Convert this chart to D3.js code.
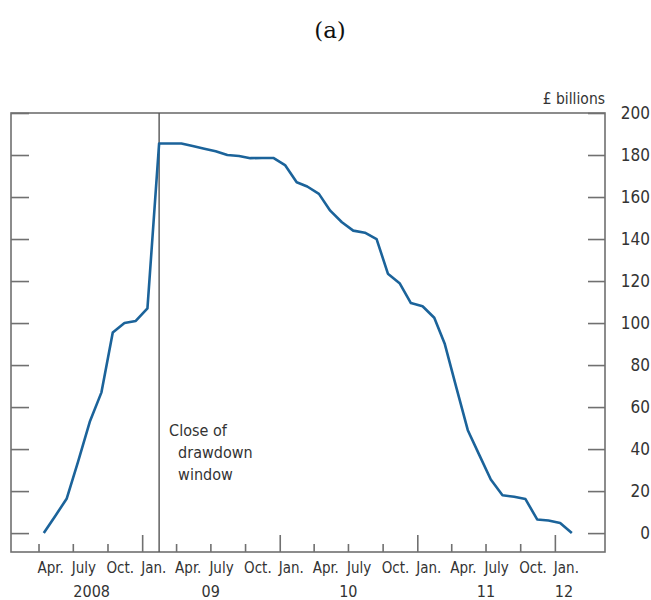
<!DOCTYPE html>
<html>
<head>
<meta charset="utf-8">
<script src="https://cdn.jsdelivr.net/npm/d3@7"></script>
<style>
  body { margin: 0; background: #fff; }
  text { font-family: "Liberation Sans Narrow", "DejaVu Sans Condensed", "Roboto", sans-serif; font-stretch: condensed; fill: #333; }
  .title { font-family: "DejaVu Serif", serif; font-stretch: normal; fill: #111; }
</style>
</head>
<body>
<div id="chart"></div>
<script>
// Monthly amounts outstanding, £ billions, Apr. 2008 to Feb. 2012
var months = ["2008-04","2008-05","2008-06","2008-07","2008-08","2008-09","2008-10","2008-11","2008-12",
    "2009-01","2009-02","2009-03","2009-04","2009-05","2009-06","2009-07","2009-08","2009-09","2009-10","2009-11","2009-12",
    "2010-01","2010-02","2010-03","2010-04","2010-05","2010-06","2010-07","2010-08","2010-09","2010-10","2010-11","2010-12",
    "2011-01","2011-02","2011-03","2011-04","2011-05","2011-06","2011-07","2011-08","2011-09","2011-10","2011-11","2011-12",
    "2012-01","2012-02"];
var values = [0, 8, 16.5, 34, 53, 67, 95.5, 100, 101,
    107, 185.5, 185.5, 185.5, 184.3, 183, 181.8, 180, 179.5, 178.5, 178.6, 178.6,
    175.2, 167, 165, 161.5, 153.5, 148, 144, 143, 140, 123.5, 119, 109.5,
    108, 102.5, 90, 69, 49, 37, 25.5, 18, 17.3, 16.2, 6.5, 6,
    4.8, 0];

// quarter tick months and their labels
var quarterMonths = ["2008-04","2008-07","2008-10","2009-01","2009-04","2009-07","2009-10","2010-01",
    "2010-04","2010-07","2010-10","2011-01","2011-04","2011-07","2011-10","2012-01"];
var monthNames = {"01": "Jan.", "04": "Apr.", "07": "July", "10": "Oct."};

var yearLabels = ["2008", "09", "10", "11", "12"];
var yearLabelDates = ["2008-08-20", "2009-07-02", "2010-07-02", "2011-07-02", "2012-01-25"];

var yTicks = [0, 20, 40, 60, 80, 100, 120, 140, 160, 180, 200];
var closeDate = "2009-02-15";

var w = 651, h = 600;
var plotLeft = 11, plotRight = 605, plotTop = 113, plotBottom = 552;

var parseMonth = d3.timeParse("%Y-%m");
var parseDay = d3.timeParse("%Y-%m-%d");
var midMonth = function(s) { return d3.timeDay.offset(parseMonth(s), 14); };

var data = months.map(function(m, i) { return {date: midMonth(m), value: values[i]}; });

var xScale = d3.scaleTime()
    .domain([new Date(2008, 0, 19), new Date(2012, 4, 13)])
    .range([plotLeft, plotRight]);

var yScale = d3.scaleLinear()
    .domain([-9, 200])
    .range([plotBottom, plotTop]);

var svg = d3.select("#chart").append("svg")
    .attr("width", w)
    .attr("height", h);

// title
svg.append("text")
    .attr("class", "title")
    .attr("x", 330)
    .attr("y", 38)
    .attr("text-anchor", "middle")
    .style("font-size", "23px")
    .text("(a)");

// units
svg.append("text")
    .attr("x", plotRight)
    .attr("y", 104)
    .attr("text-anchor", "end")
    .style("font-size", "15.5px")
    .text("£ billions");

// frame
svg.append("rect")
    .attr("x", plotLeft)
    .attr("y", plotTop)
    .attr("width", plotRight - plotLeft)
    .attr("height", plotBottom - plotTop)
    .attr("fill", "none")
    .attr("stroke", "#707070")
    .attr("stroke-width", 1.6);

// left y ticks (no labels)
var yAxisLeft = d3.axisLeft(yScale)
    .tickValues(yTicks)
    .tickSizeInner(-18)
    .tickSizeOuter(0)
    .tickFormat("");
svg.append("g")
    .attr("transform", "translate(" + plotLeft + ",0)")
    .call(yAxisLeft)
    .call(function(g) { g.select(".domain").remove(); });

// right y axis with labels
var yAxisRight = d3.axisRight(yScale)
    .tickValues(yTicks)
    .tickSizeInner(-17)
    .tickSizeOuter(0);
var gy = svg.append("g")
    .attr("transform", "translate(" + plotRight + ",0)")
    .call(yAxisRight)
    .call(function(g) { g.select(".domain").remove(); });
gy.selectAll("text")
    .attr("x", 45)
    .attr("text-anchor", "end")
    .style("font-size", "17px");

// x axis: quarterly ticks, taller at January
var xAxis = d3.axisBottom(xScale)
    .tickValues(quarterMonths.map(parseMonth))
    .tickSizeInner(-8)
    .tickSizeOuter(0)
    .tickFormat(function(d) { return monthNames[d3.timeFormat("%m")(d)]; });
var gx = svg.append("g")
    .attr("transform", "translate(0," + plotBottom + ")")
    .call(xAxis)
    .call(function(g) { g.select(".domain").remove(); });
gx.selectAll(".tick line")
    .attr("y2", function(d) { return d.getMonth() === 0 ? -17 : -8; });
gx.selectAll(".tick text")
    .attr("text-anchor", "start")
    .attr("x", -1.5)
    .attr("y", 10)
    .style("font-size", "15px");

svg.selectAll(".tick line")
    .attr("stroke", "#707070")
    .attr("stroke-width", 1.6);

// year labels
svg.selectAll(".year")
    .data(yearLabels)
    .join("text")
    .attr("class", "year")
    .attr("x", function(d, i) { return xScale(parseDay(yearLabelDates[i])); })
    .attr("y", 597)
    .attr("text-anchor", "middle")
    .style("font-size", "16px")
    .text(function(d) { return d; });

// close of drawdown window
var cx = xScale(parseDay(closeDate));
svg.append("line")
    .attr("x1", cx).attr("x2", cx)
    .attr("y1", plotTop).attr("y2", plotBottom)
    .attr("stroke", "#555")
    .attr("stroke-width", 1.4);

var note = svg.append("text")
    .style("font-size", "16px");
note.append("tspan").attr("x", cx + 10).attr("y", 436).text("Close of");
note.append("tspan").attr("x", cx + 19).attr("y", 458).text("drawdown");
note.append("tspan").attr("x", cx + 19).attr("y", 480).text("window");

// series
var line = d3.line()
    .x(function(d) { return xScale(d.date); })
    .y(function(d) { return yScale(d.value); });

svg.append("path")
    .datum(data)
    .attr("fill", "none")
    .attr("stroke", "#1b639a")
    .attr("stroke-width", 2.6)
    .attr("stroke-linejoin", "round")
    .attr("d", line);
</script>
</body>
</html>
